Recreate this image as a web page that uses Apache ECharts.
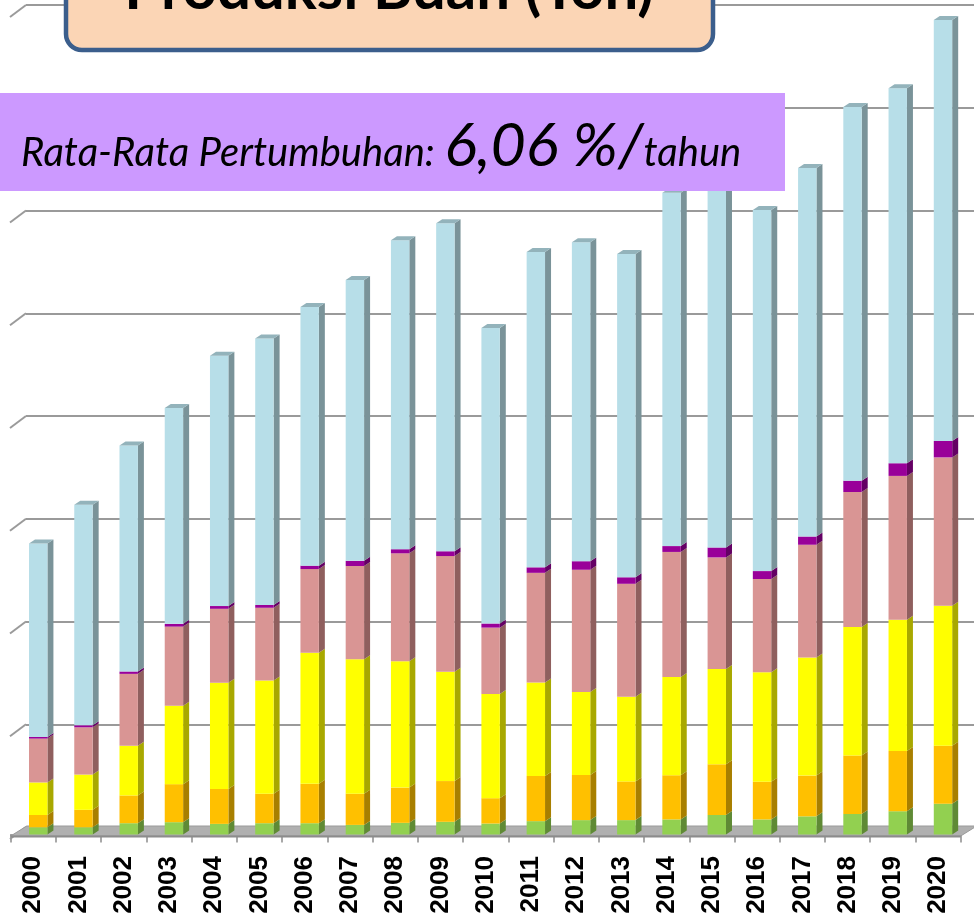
<!DOCTYPE html>
<html>
<head>
<meta charset="utf-8">
<title>Produksi Buah (Ton)</title>
<script src="https://cdn.jsdelivr.net/npm/echarts@6/dist/echarts.min.js"></script>
<style>
	html, body {margin: 0; padding: 0; background: #fff;}
	#chart {width: 974px; height: 914px;}
</style>
</head>
<body>
<div id="chart"></div>
<script>
var years = ['2000', '2001', '2002', '2003', '2004', '2005', '2006', '2007', '2008', '2009', '2010',
	'2011', '2012', '2013', '2014', '2015', '2016', '2017', '2018', '2019', '2020'];

// juta ton (urutan lapisan dari bawah ke atas)
var hijau = [0.21, 0.21, 0.33, 0.36, 0.31, 0.33, 0.33, 0.28, 0.34, 0.37, 0.32,
	0.39, 0.42, 0.42, 0.44, 0.57, 0.44, 0.53, 0.60, 0.68, 0.90];
var oranye = [0.36, 0.51, 0.81, 1.11, 1.02, 0.86, 1.15, 0.91, 1.03, 1.19, 0.74,
	1.32, 1.32, 1.13, 1.29, 1.48, 1.10, 1.19, 1.71, 1.76, 1.69];
var kuning = [0.95, 1.03, 1.45, 2.29, 3.10, 3.31, 3.83, 3.93, 3.69, 3.19, 3.04,
	2.73, 2.42, 2.47, 2.87, 2.78, 3.20, 3.45, 3.75, 3.83, 4.09];
var merah = [1.28, 1.38, 2.10, 2.31, 2.16, 2.12, 2.44, 2.72, 3.15, 3.38, 1.94,
	3.20, 3.57, 3.30, 3.65, 3.26, 2.72, 3.29, 3.94, 4.20, 4.33];
var ungu = [0.05, 0.06, 0.07, 0.08, 0.08, 0.08, 0.10, 0.15, 0.12, 0.14, 0.12,
	0.16, 0.25, 0.19, 0.17, 0.29, 0.23, 0.24, 0.33, 0.37, 0.48];
var biru = [5.65, 6.44, 6.60, 6.30, 7.31, 7.78, 7.55, 8.20, 9.02, 9.58, 8.63,
	9.21, 9.31, 9.44, 10.32, 10.87, 10.54, 10.76, 10.91, 10.95, 12.29];

// garis bantu dinding belakang
var gridTicks = [0, 3, 6, 9, 12, 15, 18, 21, 24];

var layers = [
	{name: 'hijau', data: hijau, front: '#92D050', side: '#5F8A35', top: '#78AD42'},
	{name: 'oranye', data: oranye, front: '#FFC000', side: '#A87F00', top: '#D9A300'},
	{name: 'kuning', data: kuning, front: '#FFFF00', side: '#A8A800', top: '#D9D900'},
	{name: 'merah', data: merah, front: '#D99594', side: '#8F5F5E', top: '#B87D7C'},
	{name: 'ungu', data: ungu, front: '#990099', side: '#640064', top: '#7F007F'},
	{name: 'biru', data: biru, front: '#B7DEE8', side: '#7A9399', top: '#93B3BB'}
];

var BAR_W = 18.4, SHIFT = -4.3, DX = 6, DY = 4;

function segRenderer(layer, isTop) {
	return function(params, api) {
		var i = api.value(0);
		var a = api.coord([i, api.value(1)]);
		var b = api.coord([i, api.value(2)]);
		var left = a[0] + SHIFT, right = left + BAR_W;
		var y0 = a[1], y1 = b[1];
		var kids = [
			{type: 'polygon', shape: {points: [[right, y1], [right + DX, y1 - DY], [right + DX, y0 - DY], [right, y0]]},
				style: {fill: layer.side}},
			{type: 'rect', shape: {x: left, y: y1, width: BAR_W, height: y0 - y1}, style: {fill: layer.front}}
		];
		if (isTop) {
			kids.push({type: 'polygon', shape: {points: [[left, y1], [left + DX, y1 - DY], [right + DX, y1 - DY], [right, y1]]},
				style: {fill: layer.top}});
		}
		return {type: 'group', children: kids};
	};
}

var series = [];
var base = years.map(function() { return 0; });

// diagonal kiri garis bantu
series.push({
	type: 'custom',
	xAxisIndex: 1,
	yAxisIndex: 1,
	silent: true,
	z: 1,
	data: gridTicks.map(function(v) { return [0, v]; }),
	encode: {x: 0, y: 1},
	renderItem: function(params, api) {
		var p = api.coord([0, api.value(1)]);
		return {type: 'line', shape: {x1: p[0] - 16, y1: p[1] + 12, x2: p[0], y2: p[1]},
			style: {stroke: '#9A9A9A', lineWidth: 2}};
	}
});

// lantai 3D
series.push({
	type: 'custom',
	silent: true,
	z: 2,
	data: [[0, 0]],
	encode: {x: 0, y: 1},
	renderItem: function(params, api) {
		var cs = params.coordSys;
		var yF = cs.y + cs.height + 1.5;
		var x0 = cs.x, x1 = cs.x + cs.width;
		return {type: 'group', children: [
			{type: 'polygon', shape: {points: [[x0, yF], [x1, yF], [x1 + 16, yF - 10], [x0 + 16, yF - 10]]},
				style: {fill: '#B0B0B0', stroke: '#9A9A9A', lineWidth: 1}},
			{type: 'line', shape: {x1: x0, y1: yF + 0.5, x2: x1, y2: yF + 0.5}, style: {stroke: '#8C8C8C', lineWidth: 2}}
		]};
	}
});

layers.forEach(function(layer, li) {
	var rows = layer.data.map(function(v, i) {
		var r = [i, base[i], base[i] + v];
		base[i] += v;
		return r;
	});
	series.push({
		name: layer.name,
		type: 'custom',
		silent: true,
		z: 3 + li,
		data: rows,
		encode: {x: 0, y: [1, 2]},
		renderItem: segRenderer(layer, li === layers.length - 1)
	});
});

var myChart = echarts.init(document.getElementById('chart'));
var option = {
	backgroundColor: '#fff',
	animation: false,
	grid: [
		{left: 10.7, right: 13.3, top: 12.5, bottom: 79.5, outerBoundsMode: 'none', containLabel: false},
		{left: 26, right: -4, top: 5, bottom: 87, outerBoundsMode: 'none', containLabel: false}
	],
	xAxis: [
		{
			type: 'category',
			data: years,
			gridIndex: 0,
			offset: 3.5,
			axisLine: {show: true, lineStyle: {color: '#8C8C8C', width: 1.5}},
			axisTick: {show: true, length: 8, lineStyle: {color: '#8C8C8C', width: 1.5}},
			axisLabel: {rotate: 90, margin: 18, fontSize: 26, fontWeight: 'bold', color: '#000',
				fontFamily: 'Liberation Sans'},
			splitLine: {show: false}
		},
		{type: 'value', gridIndex: 1, min: 0, max: 1, show: false}
	],
	yAxis: [
		{type: 'value', gridIndex: 0, min: 0, max: 24, show: false},
		{
			type: 'value', gridIndex: 1, min: 0, max: 24, interval: 3,
			axisLine: {show: false}, axisTick: {show: false}, axisLabel: {show: false},
			splitLine: {show: true, lineStyle: {color: '#9A9A9A', width: 2}}
		}
	],
	graphic: [
		{
			type: 'rect', z: 100,
			shape: {x: 66, y: -40, width: 647, height: 90, r: 16},
			style: {fill: '#FBD5B5', stroke: '#3B5E8C', lineWidth: 4.5}
		},
		{
			type: 'text', z: 101, x: 389, y: 20,
			style: {text: 'Produksi Buah (Ton)', fill: '#000', font: 'bold 60px Lato',
				align: 'center', verticalAlign: 'bottom'}
		},
		{
			type: 'rect', z: 100,
			shape: {x: 0, y: 93, width: 785, height: 98},
			style: {fill: '#CC99FF'}
		},
		{
			type: 'text', z: 101, x: 21, y: 177,
			style: {
				text: '{a|Rata-Rata Pertumbuhan: }{b|6,06 %/}{a|tahun}',
				fill: '#000',
				align: 'left',
				verticalAlign: 'bottom',
				rich: {
					a: {fontFamily: 'Lato', fontStyle: 'italic', fontSize: 40, verticalAlign: 'bottom', padding: [0, 0, 4, 0]},
					b: {fontFamily: 'Lato', fontStyle: 'italic', fontSize: 61, verticalAlign: 'bottom'}
				}
			}
		}
	],
	series: series
};
myChart.setOption(option);
</script>
</body>
</html>
